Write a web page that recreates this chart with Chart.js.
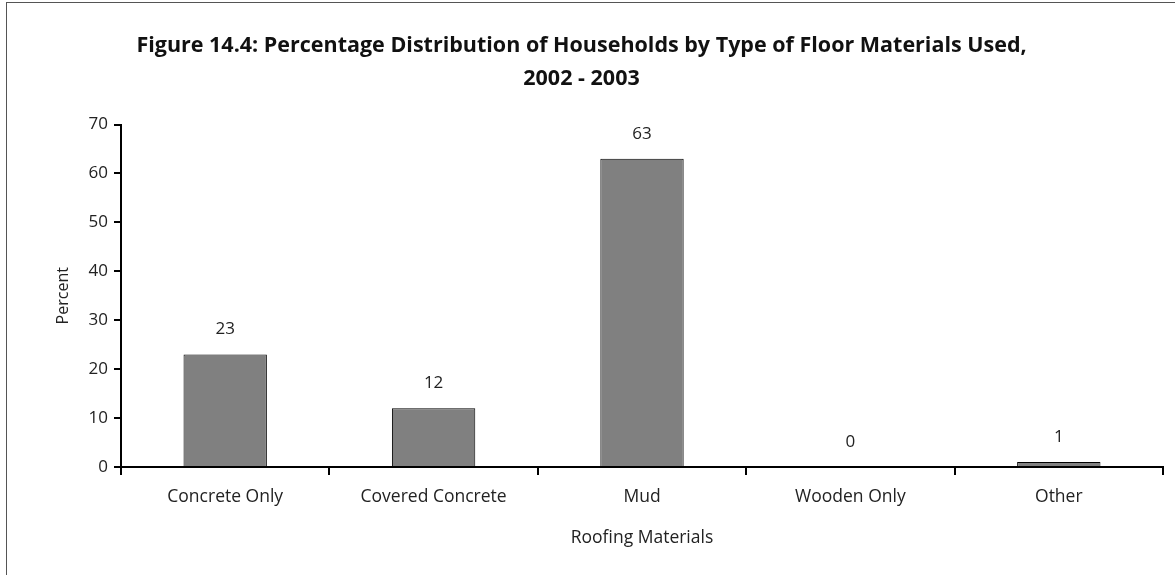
<!DOCTYPE html>
<html>
<head>
<meta charset="utf-8">
<script src="https://cdn.jsdelivr.net/npm/chart.js@4"></script>
<style>
  html, body { margin: 0; padding: 0; background: #fff; }
  #wrap { width: 1175px; height: 575px; }
</style>
</head>
<body>
<div id="wrap"><canvas id="floorChart" width="1175" height="575"></canvas></div>
<script>
const categories = ["Concrete Only", "Covered Concrete", "Mud", "Wooden Only", "Other"];
const percents = [23, 12, 63, 0, 1];
const titleLines = ["Figure 14.4: Percentage Distribution of Households by Type of Floor Materials Used,", "2002 - 2003"];

const FONT = "'Open Sans', sans-serif";

// frame around the figure, like the original
const framePlugin = {
    id: "frame",
    beforeDraw(chart) {
        const ctx = chart.ctx;
        ctx.save();
        ctx.fillStyle = "#fff";
        ctx.fillRect(0, 0, chart.width, chart.height);
        ctx.strokeStyle = "#555";
        ctx.lineWidth = 1;
        ctx.strokeRect(6.5, 2.5, chart.width, chart.height);
        ctx.restore();
    }
};

// value above each bar
const valuePlugin = {
    id: "values",
    afterDatasetsDraw(chart) {
        const ctx = chart.ctx;
        const meta = chart.getDatasetMeta(0);
        ctx.save();
        ctx.font = "17px " + FONT;
        ctx.fillStyle = "#222";
        ctx.textAlign = "center";
        ctx.textBaseline = "middle";
        meta.data.forEach((bar, i) => {
            ctx.fillText(String(percents[i]), bar.x, bar.y - 25);
        });
        ctx.restore();
    }
};

new Chart(document.getElementById("floorChart"), {
    type: "bar",
    data: {
        labels: categories,
        datasets: [{
            data: percents,
            backgroundColor: "#808080",
            borderColor: "#000",
            borderWidth: 1,
            barPercentage: 0.4,
            categoryPercentage: 1.0
        }]
    },
    options: {
        responsive: false,
        animation: false,
        layout: { padding: { left: 0, right: 12, top: 0, bottom: 22 } },
        plugins: {
            legend: { display: false },
            tooltip: { enabled: false },
            title: {
                display: true,
                text: titleLines,
                color: "#111",
                font: { family: FONT, size: 21.5, weight: "bold", lineHeight: 1.5 },
                padding: { top: 30, bottom: 30 }
            }
        },
        scales: {
            x: {
                grid: {
                    offset: true,
                    drawOnChartArea: false,
                    drawTicks: true,
                    tickLength: 8,
                    color: "#000",
                    lineWidth: 2
                },
                border: { color: "#000", width: 2 },
                ticks: { color: "#222", font: { family: FONT, size: 17.5 }, padding: 12 },
                title: {
                    display: true,
                    text: "Roofing Materials",
                    color: "#222",
                    font: { family: FONT, size: 17.5 },
                    padding: { top: 16 }
                },
                afterFit(s) { s.height = 86; }
            },
            y: {
                min: 0,
                max: 70,
                ticks: { stepSize: 10, color: "#222", font: { family: FONT, size: 17 }, padding: 6 },
                grid: {
                    drawOnChartArea: false,
                    drawTicks: true,
                    tickLength: 7,
                    color: "#000",
                    lineWidth: 2
                },
                border: { color: "#000", width: 2 },
                title: {
                    display: true,
                    text: "Percent",
                    color: "#222",
                    font: { family: FONT, size: 16 },
                    padding: { top: 54, bottom: 0 }
                },
                afterFit(s) { s.width = 121; }
            }
        }
    },
    plugins: [framePlugin, valuePlugin]
});
</script>
</body>
</html>
